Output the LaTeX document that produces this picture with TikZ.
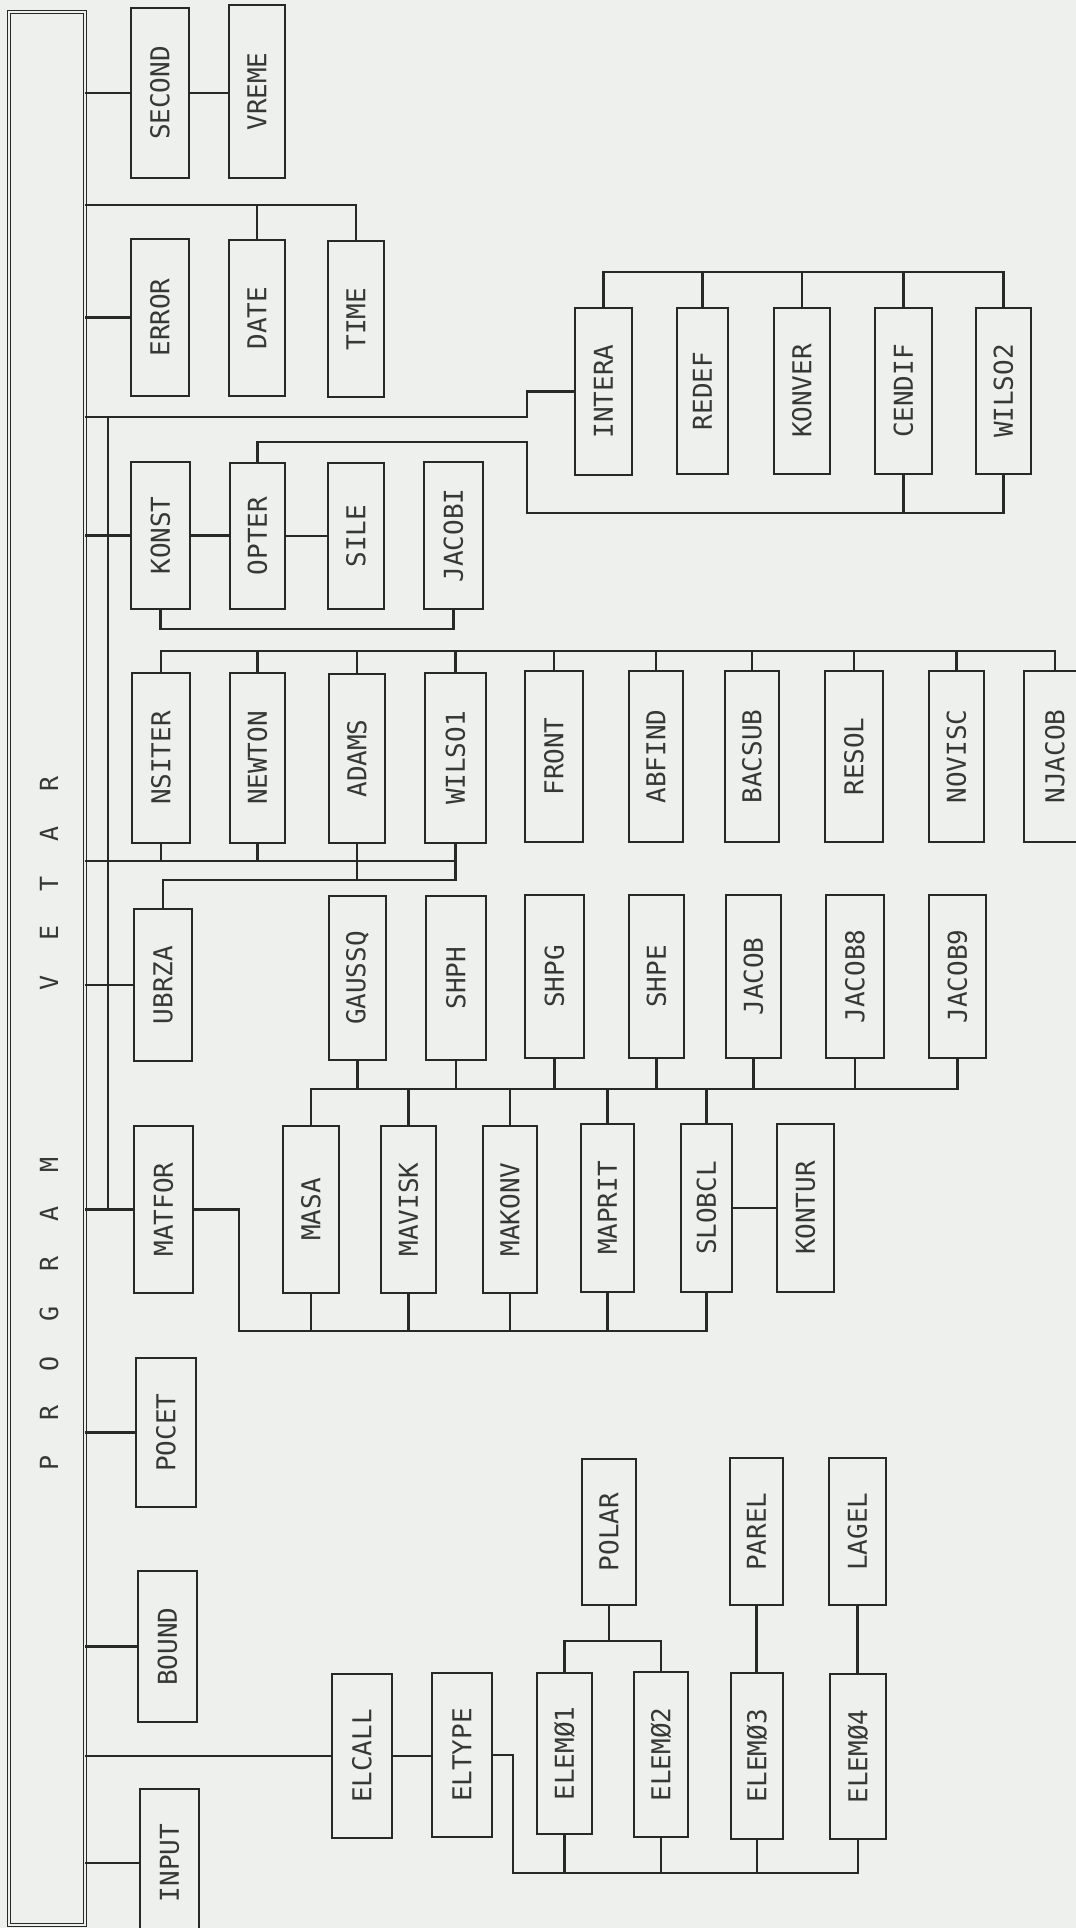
\documentclass[tikz,border=0pt]{standalone}
\usepackage{fontspec}
\newfontfamily\lblfont{DejaVu Sans Mono}
\definecolor{paper}{RGB}{238,240,237}
\definecolor{ink}{RGB}{40,40,40}
\definecolor{txt}{RGB}{55,55,55}
\newcommand\Ltr[1]{\makebox[49.7pt]{#1}}
\newcommand\Bx[6]{\node[bx,minimum width={#4-#3},minimum height={#6-#5}] (#1) at ({(#3+#4)/2},{(#5+#6)/2}) {\rotatebox{90}{#2}};}
\begin{document}
\begin{tikzpicture}[x=1pt,y=-1pt,
  bx/.style={draw=ink,line width=1.5pt,inner sep=0pt,outer sep=0pt,
    font=\lblfont\fontsize{26}{26}\selectfont,text=txt},
  bus/.style={draw=ink,line width=2.2pt},
  progbox/.style={draw=ink,double=paper,double distance=2.4pt,line width=1pt,
    inner sep=0pt,outer sep=0pt}]
\useasboundingbox (0,0) rectangle (1076,1928);
\clip (0,0) rectangle (1076,1928);
\fill[paper] (0,0) rectangle (1076,1928);

% main box
\node[progbox,minimum width=76,minimum height=1913] (prog) at (47,968.5) {};
\node[inner sep=0pt,font=\lblfont\fontsize{25}{25}\selectfont,text=txt] (title) at (49,1123.5)
  {\rotatebox{90}{\Ltr{P}\Ltr{R}\Ltr{O}\Ltr{G}\Ltr{R}\Ltr{A}\Ltr{M}\hspace{132pt}\Ltr{V}\Ltr{E}\Ltr{T}\Ltr{A}\Ltr{R}}};

% boxes
\Bx{second}{SECOND}{131}{189}{8}{178}
\Bx{vreme}{VREME}{229}{285}{5}{178}
\Bx{error}{ERROR}{131}{189}{239}{396}
\Bx{date}{DATE}{229}{285}{240}{396}
\Bx{time}{TIME}{328}{384}{241}{397}
\Bx{konst}{KONST}{131}{190}{462}{609}
\Bx{opter}{OPTER}{230}{285}{463}{609}
\Bx{sile}{SILE}{328}{384}{463}{609}
\Bx{jacobi}{JACOBI}{424}{483}{462}{609}
\Bx{intera}{INTERA}{575}{632}{308}{475}
\Bx{redef}{REDEF}{677}{728}{308}{474}
\Bx{konver}{KONVER}{774}{830}{308}{474}
\Bx{cendif}{CENDIF}{875}{932}{308}{474}
\Bx{wilsb}{WILSO2}{976}{1031}{308}{474}
\Bx{nsiter}{NSITER}{132}{190}{673}{843}
\Bx{newton}{NEWTON}{230}{285}{673}{843}
\Bx{adams}{ADAMS}{329}{385}{674}{843}
\Bx{wilsa}{WILSO1}{425}{486}{673}{843}
\Bx{front}{FRONT}{525}{583}{671}{842}
\Bx{abfind}{ABFIND}{629}{683}{671}{842}
\Bx{bacsub}{BACSUB}{725}{779}{671}{842}
\Bx{resol}{RESOL}{825}{883}{671}{842}
\Bx{novisc}{NOVISC}{929}{984}{671}{842}
\Bx{njacob}{NJACOB}{1024}{1086}{671}{842}
\Bx{ubrza}{UBRZA}{134}{192}{909}{1061}
\Bx{gaussq}{GAUSSQ}{329}{386}{896}{1060}
\Bx{shph}{SHPH}{426}{486}{896}{1060}
\Bx{shpg}{SHPG}{525}{584}{895}{1058}
\Bx{shpe}{SHPE}{629}{684}{895}{1058}
\Bx{jacob}{JACOB}{726}{781}{895}{1058}
\Bx{jacobe}{JACOB8}{826}{884}{895}{1058}
\Bx{jacobn}{JACOB9}{929}{986}{895}{1058}
\Bx{matfor}{MATFOR}{134}{193}{1126}{1293}
\Bx{masa}{MASA}{283}{339}{1126}{1293}
\Bx{mavisk}{MAVISK}{381}{436}{1126}{1293}
\Bx{makonv}{MAKONV}{483}{537}{1126}{1293}
\Bx{maprit}{MAPRIT}{581}{634}{1124}{1292}
\Bx{slobcl}{SLOBCL}{681}{732}{1124}{1292}
\Bx{kontur}{KONTUR}{777}{834}{1124}{1292}
\Bx{pocet}{POCET}{136}{196}{1358}{1507}
\Bx{bound}{BOUND}{138}{197}{1571}{1722}
\Bx{elcall}{ELCALL}{332}{392}{1674}{1838}
\Bx{eltype}{ELTYPE}{432}{492}{1673}{1837}
\Bx{polar}{POLAR}{582}{636}{1459}{1605}
\Bx{parel}{PAREL}{730}{783}{1458}{1605}
\Bx{lagel}{LAGEL}{829}{886}{1458}{1605}
\Bx{elema}{ELEMØ1}{537}{592}{1673}{1834}
\Bx{elemb}{ELEMØ2}{634}{688}{1672}{1837}
\Bx{elemc}{ELEMØ3}{731}{783}{1673}{1839}
\Bx{elemd}{ELEMØ4}{830}{886}{1674}{1839}
\Bx{input}{INPUT}{140}{199}{1789}{1937}

% bus levels
\coordinate (yDT) at (0,205);
\coordinate (yA) at (0,417);
\coordinate (xJ) at (527,0);
\coordinate (yO1) at (0,442);
\coordinate (yO2) at (0,513);
\coordinate (yT) at (0,272);
\coordinate (yKJ) at (0,629);
\coordinate (yN) at (0,651);
\coordinate (yNB) at (0,861);
\coordinate (yU) at (0,880);
\coordinate (xV) at (108,0);
\coordinate (xM) at (239,0);
\coordinate (yMB) at (0,1331);
\coordinate (yG) at (0,1089);
\coordinate (xE) at (513,0);
\coordinate (yE) at (0,1873);
\coordinate (yP) at (0,1641);

% connectors from main box
\foreach \n in {second,error,konst,ubrza,matfor,pocet,bound,elcall,input}
  \draw[bus] (prog.east |- \n.west) -- (\n.west);
\draw[bus] (second.east) -- (vreme.west |- second.east);

% DATE / TIME
\draw[bus] (prog.east |- yDT) -| (time.north);
\draw[bus] (date.north) -- (date.north |- yDT);

% INTERA branch
\draw[bus] (prog.east |- yA) -- (xJ |- yA) -- (xJ |- intera.west) -- (intera.west);
\draw[bus] (intera.north) |- (yT -| wilsb.north) -- (wilsb.north);
\foreach \n in {redef,konver,cendif}
  \draw[bus] (\n.north) -- (\n.north |- yT);
\draw[bus] (opter.north) |- (xJ |- yO1) |- (yO2 -| wilsb.south) -- (wilsb.south);
\draw[bus] (cendif.south) -- (cendif.south |- yO2);

% inner vertical
\draw[bus] (xV |- yA) -- (xV |- matfor.west);

% KONST group
\draw[bus] (konst.east) -- (opter.west |- konst.east);
\draw[bus] (opter.east) -- (sile.west |- opter.east);
\draw[bus] (konst.south) |- (yKJ -| jacobi.south) -- (jacobi.south);

% NSITER row
\draw[bus] (nsiter.north) |- (yN -| njacob.north) -- (njacob.north);
\foreach \n in {newton,adams,wilsa,front,abfind,bacsub,resol,novisc}
  \draw[bus] (\n.north) -- (\n.north |- yN);
\draw[bus] (prog.east |- yNB) -- (yNB -| wilsa.south) -- (wilsa.south);
\foreach \n in {nsiter,newton,adams}
  \draw[bus] (\n.south) -- (\n.south |- yNB);
\draw[bus] (ubrza.north) |- (yU -| wilsa.south) -- (yNB -| wilsa.south);
\draw[bus] (adams.south) -- (adams.south |- yU);

% MATFOR group
\draw[bus] (matfor.east) -- (xM |- matfor.east) -- (xM |- yMB) -- (yMB -| slobcl.south) -- (slobcl.south);
\foreach \n in {masa,mavisk,makonv,maprit}
  \draw[bus] (\n.south) -- (\n.south |- yMB);
\draw[bus] (masa.north) |- (yG -| jacobn.south) -- (jacobn.south);
\foreach \n in {mavisk,makonv,maprit,slobcl}
  \draw[bus] (\n.north) -- (\n.north |- yG);
\foreach \n in {gaussq,shph,shpg,shpe,jacob,jacobe}
  \draw[bus] (\n.south) -- (\n.south |- yG);
\draw[bus] (slobcl.east) -- (kontur.west |- slobcl.east);

% ELCALL group
\draw[bus] (elcall.east) -- (eltype.west |- elcall.east);
\draw[bus] (eltype.east) -- (xE |- eltype.east) -- (xE |- yE) -- (yE -| elemd.south) -- (elemd.south);
\foreach \n in {elema,elemb,elemc}
  \draw[bus] (\n.south) -- (\n.south |- yE);
\draw[bus] (polar.south) -- (polar.south |- yP);
\draw[bus] (elema.north) |- (yP -| elemb.north) -- (elemb.north);
\draw[bus] (parel.south) -- (parel.south |- elemc.north);
\draw[bus] (lagel.south) -- (lagel.south |- elemd.north);
\end{tikzpicture}
\end{document}
